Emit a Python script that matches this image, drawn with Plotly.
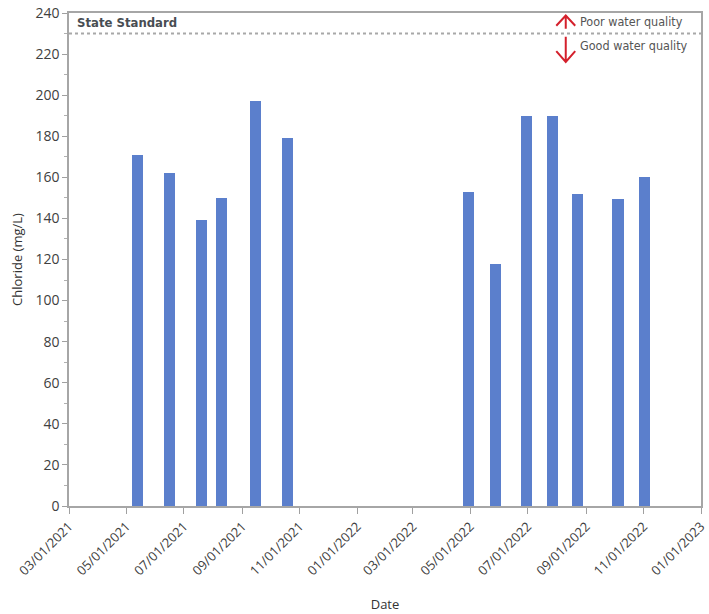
import plotly.graph_objects as go

# sampling dates and chloride readings (mg/L)
dates = ['2021-05-13', '2021-06-16', '2021-07-20', '2021-08-10', '2021-09-15', '2021-10-19',
         '2022-04-29', '2022-05-28', '2022-06-30', '2022-07-27', '2022-08-23', '2022-10-05',
         '2022-11-02']
chloride = [171, 162, 139, 150, 197, 179,
            153, 118, 190, 190, 152, 149.5, 160]

state_standard = 230
x_ticks = ['2021-03-01', '2021-05-01', '2021-07-01', '2021-09-01', '2021-11-01', '2022-01-01',
           '2022-03-01', '2022-05-01', '2022-07-01', '2022-09-01', '2022-11-01', '2023-01-01']

tick_font = dict(family='Open Sans, sans-serif', size=13, color='#404040')
narrow = 'Liberation Sans Narrow, DejaVu Sans Condensed, Arial Narrow, sans-serif'
red = '#d4202c'

fig = go.Figure()
fig.add_trace(go.Bar(
    x=dates, y=chloride,
    width=12 * 86400000,
    marker=dict(color='#5b7fcc', line=dict(width=0)),
    hoverinfo='x+y'
))

# state standard line
fig.add_shape(type='line', xref='paper', yref='y', x0=0, x1=1,
              y0=state_standard, y1=state_standard,
              line=dict(color='#a8a8a8', width=2, dash='dot'))

# red arrows (up = poor, down = good)
ax_x = 0.786
dx = 0.015
fig.add_shape(type='path', xref='paper', yref='y',
              path=f'M {ax_x} 232.3 L {ax_x} 238.8 M {ax_x - dx} 233.8 L {ax_x} 238.8 L {ax_x + dx} 233.8',
              line=dict(color=red, width=2))
fig.add_shape(type='path', xref='paper', yref='y',
              path=f'M {ax_x} 228.4 L {ax_x} 216.2 M {ax_x - dx} 221.4 L {ax_x} 216.2 L {ax_x + dx} 221.4',
              line=dict(color=red, width=2))

fig.add_annotation(xref='paper', yref='y', x=0.01, y=235.6, text='<b>State Standard</b>',
                   showarrow=False, xanchor='left', yanchor='middle',
                   font=dict(family=narrow, size=13, color='#484d52'))
fig.add_annotation(xref='paper', yref='y', x=0.805, y=235.7, text='Poor water quality',
                   showarrow=False, xanchor='left', yanchor='middle',
                   font=dict(family=narrow, size=12.5, color='#555555'))
fig.add_annotation(xref='paper', yref='y', x=0.805, y=224.3, text='Good water quality',
                   showarrow=False, xanchor='left', yanchor='middle',
                   font=dict(family=narrow, size=12.5, color='#555555'))

fig.update_layout(
    width=709, height=614,
    margin=dict(l=69, r=8, t=13, b=108),
    plot_bgcolor='white', paper_bgcolor='white',
    showlegend=False,
    bargap=0,
)

fig.update_xaxes(
    type='date',
    range=['2021-03-01', '2023-01-01'],
    tickvals=x_ticks, tickformat='%m/%d/%Y', tickangle=-45,
    tickfont=tick_font,
    ticks='outside', ticklen=6, tickcolor='#a0a0a0',
    showline=True, linecolor='#a6a6a6', linewidth=1.5, mirror=True,
    showgrid=False, zeroline=False,
    title=dict(text='Date', font=dict(family='Open Sans, sans-serif', size=13, color='#333333'),
               standoff=22),
    automargin=False,
)
fig.update_yaxes(
    range=[0, 240], dtick=20,
    tickfont=dict(family='Open Sans, sans-serif', size=14, color='#404040'),
    ticks='outside', ticklen=5, tickcolor='#a0a0a0',
    minor=dict(dtick=10, ticks='outside', ticklen=3, tickcolor='#b0b0b0'),
    showline=True, linecolor='#a6a6a6', linewidth=1.5, mirror=True,
    showgrid=False, zeroline=False,
    ticklabeloverflow='allow',
    title=dict(text='Chloride (mg/L)', font=dict(family='Open Sans, sans-serif', size=13, color='#333333'),
               standoff=10),
    automargin=False,
)

# page has a default 8px body margin; drop it so the figure sits at the window corner
fig.write_html('out.html', config={'displayModeBar': False},
               post_script="document.body.style.margin = '0';")
